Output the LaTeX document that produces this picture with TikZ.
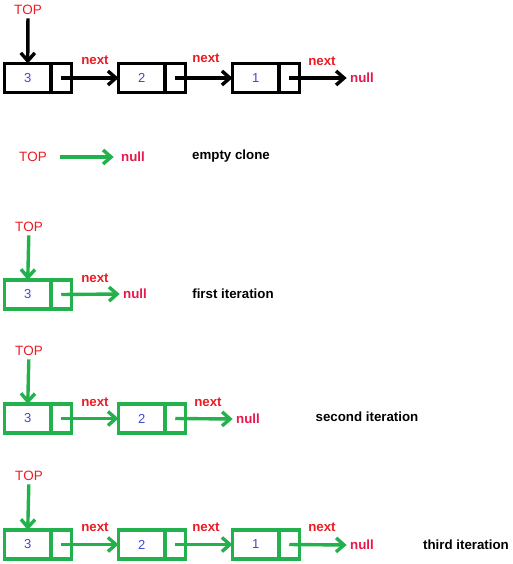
\documentclass[tikz,border=0pt]{standalone}
\usepackage{fontspec}
\setmainfont{Liberation Sans}
\usetikzlibrary{arrows.meta}
\usetikzlibrary{positioning}
\definecolor{topred}{RGB}{237,28,36}
\definecolor{nullred}{RGB}{232,23,77}
\definecolor{numblue}{RGB}{63,72,204}
\definecolor{paintgreen}{RGB}{34,177,76}

\tikzset{
  cell/.style={draw, line width=3.4pt, minimum height=29pt, inner sep=0pt, outer sep=0pt},
  data/.style={cell, minimum width=46.5pt, text=numblue, font=\fontsize{13}{13}\selectfont},
  ptr/.style={cell, minimum width=20.5pt},
  toplbl/.style={text=topred, font=\fontsize{13.5}{14}\selectfont},
  nextlbl/.style={text=topred, font=\fontsize{13.3}{14}\selectfont\bfseries},
  nulllbl/.style={text=nullred, font=\fontsize{13.3}{14}\selectfont\bfseries},
  note/.style={font=\fontsize{13.3}{14}\selectfont\bfseries},
  link/.style={line width=3.4pt, -{Straight Barb[length=8pt,width=14pt]}},
  green/.style={draw=paintgreen, color=paintgreen}
}

\begin{document}
\begin{tikzpicture}[x=1pt, y=-1pt]
  \useasboundingbox (0,0) rectangle (512,564);

  % original stack
  \node[data] (o3) at (27.75,78) {3};
  \node[ptr, right=0pt of o3] (o3n) {};
  \node[data, right=47pt of o3n] (o2) {2};
  \node[ptr, right=0pt of o2] (o2n) {};
  \node[data, right=47pt of o2n] (o1) {1};
  \node[ptr, right=0pt of o1] (o1n) {};
  \node[toplbl] (otop) at (28,10) {TOP};
  \node[nulllbl] (onull) at (362,78) {null};
  \node[nextlbl] at (95,60) {next};
  \node[nextlbl] at (206,58) {next};
  \node[nextlbl] at (322,61) {next};
  \draw[link] (otop) -- (o3.north);
  \draw[link] (o3n.center) -- (o2.west);
  \draw[link] (o2n.center) -- (o1.west);
  \draw[link] (o1n.center) -- (onull.west);

  % empty clone
  \node[toplbl] (etop) at (33,157) {TOP};
  \node[nulllbl] (enull) at (133,157) {null};
  \node[note] at (231,156) {empty clone};
  \draw[link, green, shorten <=10pt, shorten >=4pt] (etop.east) -- (enull.west);

  % first iteration
  \node[data, green, text=numblue] (f3) at (27.75,294.5) {3};
  \node[ptr, green, right=0pt of f3] (f3n) {};
  \node[toplbl] (ftop) at (29,227) {TOP};
  \node[nulllbl] (fnull) at (135,294) {null};
  \node[nextlbl] at (95,278) {next};
  \node[note] at (233,294) {first iteration};
  \draw[link, green] (ftop) -- (f3.north);
  \draw[link, green] (f3n.center) -- (fnull.west);

  % second iteration
  \node[data, green, text=numblue] (s3) at (27.75,418.5) {3};
  \node[ptr, green, right=0pt of s3] (s3n) {};
  \node[data, green, text=numblue, right=47pt of s3n] (s2) {2};
  \node[ptr, green, right=0pt of s2] (s2n) {};
  \node[toplbl] (stop) at (29,351) {TOP};
  \node[nulllbl] (snull) at (248,419) {null};
  \node[nextlbl] at (95,402) {next};
  \node[nextlbl] at (208,402) {next};
  \node[note] at (367,417) {second iteration};
  \draw[link, green] (stop) -- (s3.north);
  \draw[link, green] (s3n.center) -- (s2.west);
  \draw[link, green] (s2n.center) -- (snull.west);

  % third iteration
  \node[data, green, text=numblue] (t3) at (27.75,544.5) {3};
  \node[ptr, green, right=0pt of t3] (t3n) {};
  \node[data, green, text=numblue, right=47pt of t3n] (t2) {2};
  \node[ptr, green, right=0pt of t2] (t2n) {};
  \node[data, green, text=numblue, right=47pt of t2n] (t1) {1};
  \node[ptr, green, right=0pt of t1] (t1n) {};
  \node[toplbl] (ttop) at (29,476) {TOP};
  \node[nulllbl] (tnull) at (362,545) {null};
  \node[nextlbl] at (95,527) {next};
  \node[nextlbl] at (206,527) {next};
  \node[nextlbl] at (322,527) {next};
  \node[note] at (466,545) {third iteration};
  \draw[link, green] (ttop) -- (t3.north);
  \draw[link, green] (t3n.center) -- (t2.west);
  \draw[link, green] (t2n.center) -- (t1.west);
  \draw[link, green] (t1n.center) -- (tnull.west);
\end{tikzpicture}
\end{document}
